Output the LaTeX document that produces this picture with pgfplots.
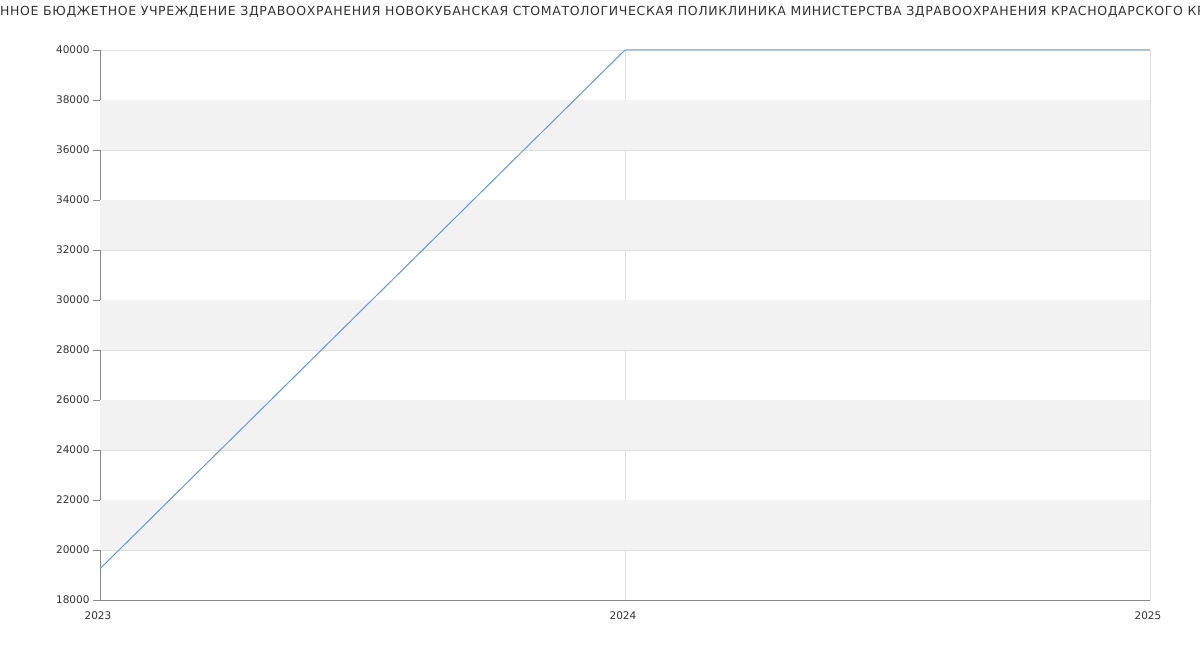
\documentclass[border=0pt]{standalone}
\usepackage{fontspec}
\setmainfont{DejaVu Sans}
\newfontfamily\titlefont[LetterSpace=5]{DejaVu Sans}
\usepackage{pgfplots}
\pgfplotsset{compat=1.18}
\definecolor{txt}{HTML}{333333}
\definecolor{gridc}{HTML}{E0E0E0}
\definecolor{band}{HTML}{F2F2F2}
\definecolor{axisc}{HTML}{888888}
\definecolor{linec}{HTML}{6495ED}
\begin{document}
\begin{tikzpicture}
\useasboundingbox (0,0) rectangle (1200bp,650bp);
% title runs past both edges, as in the reference
\node[anchor=west, text=txt, font=\titlefont\fontsize{12.5bp}{15bp}\selectfont, inner sep=0pt]
  at (0bp,638bp) {\llap{ГОСУДАРСТВЕ}ННОЕ БЮДЖЕТНОЕ УЧРЕЖДЕНИЕ ЗДРАВООХРАНЕНИЯ НОВОКУБАНСКАЯ СТОМАТОЛОГИЧЕСКАЯ ПОЛИКЛИНИКА МИНИСТЕРСТВА ЗДРАВООХРАНЕНИЯ КРАСНОДАРСКОГО КРАЯ};
\begin{axis}[
    at={(100bp,50bp)}, anchor=south west,
    scale only axis, width=1050bp, height=550bp,
    xmin=2023, xmax=2025, ymin=18000, ymax=40000,
    xtick={2023,2024,2025}, ytick={18000,20000,...,40000},
    scaled ticks=false,
    /pgf/number format/.cd, use comma=false, 1000 sep={}, assume math mode=true,
    /pgfplots/.cd,
    tick label style={font=\fontsize{10.5bp}{12bp}\selectfont, text=txt},
    xticklabel style={yshift=-8bp, xshift=-2bp},
    grid=major, major grid style={gridc, line width=0.8bp},
    axis x line*=bottom, axis y line*=left,
    axis line style={axisc, line width=0.8bp},
    tick style={axisc, line width=0.8bp},
    major tick length=7bp,
    ytick align=outside, xtick align=inside, xtick style={draw=none},
    clip=false,
]
\addplot[draw=none, fill=band, forget plot] coordinates {(2023,20000) (2025,20000) (2025,22000) (2023,22000)} -- cycle;
\addplot[draw=none, fill=band, forget plot] coordinates {(2023,24000) (2025,24000) (2025,26000) (2023,26000)} -- cycle;
\addplot[draw=none, fill=band, forget plot] coordinates {(2023,28000) (2025,28000) (2025,30000) (2023,30000)} -- cycle;
\addplot[draw=none, fill=band, forget plot] coordinates {(2023,32000) (2025,32000) (2025,34000) (2023,34000)} -- cycle;
\addplot[draw=none, fill=band, forget plot] coordinates {(2023,36000) (2025,36000) (2025,38000) (2023,38000)} -- cycle;
\addplot[linec, line width=1bp, mark=none] coordinates {(2023,19250) (2024,40000) (2025,40000)};
\end{axis}
\end{tikzpicture}
\end{document}
